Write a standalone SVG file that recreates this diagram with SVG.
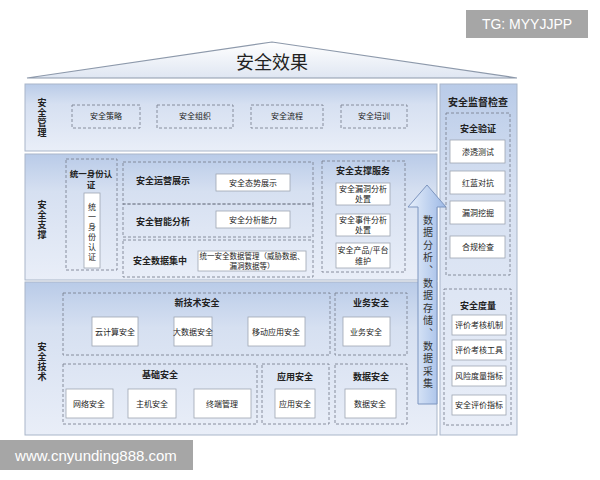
<svg xmlns="http://www.w3.org/2000/svg" width="600" height="480" viewBox="0 0 600 480">
<defs>
<linearGradient id="band" x1="0" y1="0" x2="0" y2="1"><stop offset="0" stop-color="#b9cbe8"/><stop offset="0.3" stop-color="#d6e0f1"/><stop offset="1" stop-color="#e9eef8"/></linearGradient>
<linearGradient id="roof" x1="0" y1="0" x2="0" y2="1"><stop offset="0" stop-color="#ffffff"/><stop offset="1" stop-color="#dfe6f2"/></linearGradient>
<linearGradient id="arr" x1="0" y1="0" x2="1" y2="0"><stop offset="0" stop-color="#e8f0fb"/><stop offset="1" stop-color="#9db9e6"/></linearGradient>
</defs>
<style>
text{font-family:"Noto Sans CJK SC","Liberation Sans",sans-serif;fill:#222;text-anchor:middle}
.band{fill:url(#band);stroke:#a9b6c9;stroke-width:1}
.d{fill:none;stroke:#7d8593;stroke-width:0.9;stroke-dasharray:3,2}
.w{fill:#fff;stroke:#9ea6b2;stroke-width:0.8}
.s{font-size:8px}
.b{font-size:9px;font-weight:bold}
.v{font-size:9px;font-weight:bold;writing-mode:vertical-rl;letter-spacing:1px}
</style>
<rect width="600" height="480" fill="#fff"/>
<g id="roof"><polygon points="27,78 272,42 517,78" fill="url(#roof)" stroke="#8d99ab" stroke-width="1.2"/><text x="272" y="69" style="font-size:18px">安全效果</text></g>
<g id="bands">
<rect class="band" x="25" y="84" width="412" height="67"/>
<rect class="band" x="25" y="154" width="412" height="126"/>
<rect class="band" x="25" y="282" width="412" height="153"/>
<rect class="band" x="440" y="84" width="77" height="351"/>
</g>
<g id="labels">
<text class="v" x="42" y="118">安全管理</text>
<text class="v" x="42" y="220">安全支撑</text>
<text class="v" x="42" y="362">安全技术</text>
</g>
<g id="mgmt">
<rect class="d" x="72" y="105" width="68" height="23"/><text class="s" x="106" y="119">安全策略</text>
<rect class="d" x="157" y="105" width="76" height="23"/><text class="s" x="195" y="119">安全组织</text>
<rect class="d" x="251" y="105" width="72" height="23"/><text class="s" x="287" y="119">安全流程</text>
<rect class="d" x="341" y="105" width="66" height="23"/><text class="s" x="374" y="119">安全培训</text>
</g>
<g id="identity">
<rect class="d" x="66" y="159" width="51" height="111"/>
<text x="91" y="177" style="font-size:8.5px;font-weight:bold">统一身份认</text><text x="91" y="188" style="font-size:8.5px;font-weight:bold">证</text>
<rect class="w" x="84" y="193" width="16" height="75"/>
<text x="92" y="233" style="font-size:8px;writing-mode:vertical-rl;letter-spacing:2px">统一身份认证</text>
</g>
<g id="ops">
<rect class="d" x="123" y="162" width="190" height="42"/><text class="b" x="163" y="184">安全运营展示</text>
<rect class="w" x="216" y="174" width="74" height="17"/><text class="s" x="253" y="186">安全态势展示</text>
<rect class="d" x="123" y="204" width="190" height="33"/><text class="b" x="163" y="225">安全智能分析</text>
<rect class="w" x="216" y="211" width="74" height="17"/><text class="s" x="253" y="223">安全分析能力</text>
<rect class="d" x="123" y="240" width="190" height="37"/><text class="b" x="160" y="264">安全数据集中</text>
<rect class="w" x="198" y="251" width="108" height="20"/><text x="252" y="259" style="font-size:7.5px">统一安全数据管理（威胁数据、</text><text x="252" y="269" style="font-size:7.5px">漏洞数据等）</text>
</g>
<g id="services">
<rect class="d" x="322" y="161" width="83" height="111"/><text class="b" x="363" y="174">安全支撑服务</text>
<rect class="w" x="336" y="183" width="54" height="22"/><text class="s" x="363" y="192">安全漏洞分析</text><text class="s" x="363" y="202">处置</text>
<rect class="w" x="336" y="214" width="54" height="22"/><text class="s" x="363" y="223">安全事件分析</text><text class="s" x="363" y="233">处置</text>
<rect class="w" x="336" y="243" width="54" height="25"/><text class="s" x="363" y="253">安全产品/平台</text><text class="s" x="363" y="264">维护</text>
</g>
<g id="connectors">
<polygon points="427,185 446,207 437,207 437,404 418,404 418,207 408,207" fill="url(#arr)" stroke="#7d95bf" stroke-width="1"/>
<text x="428" y="303" style="font-size:10px;fill:#333;writing-mode:vertical-rl;letter-spacing:2.6px">数据分析、数据存储、数据采集</text>
</g>
<g id="supervision">
<text x="478" y="106" style="font-size:10px;font-weight:bold">安全监督检查</text>
<rect class="d" x="446" y="113" width="64" height="162"/><text class="b" x="478" y="132">安全验证</text>
<rect class="w" x="450" y="140" width="55" height="23"/><text class="s" x="478" y="155">渗透测试</text>
<rect class="w" x="450" y="171" width="55" height="23"/><text class="s" x="478" y="186">红蓝对抗</text>
<rect class="w" x="450" y="201" width="55" height="23"/><text class="s" x="478" y="216">漏洞挖掘</text>
<rect class="w" x="450" y="236" width="55" height="22"/><text class="s" x="478" y="250">合规检查</text>
<rect class="d" x="444" y="289" width="67" height="136"/><text class="b" x="478" y="309">安全度量</text>
<rect class="w" x="452" y="315" width="54" height="20"/><text class="s" x="479" y="328">评价考核机制</text>
<rect class="w" x="452" y="340" width="54" height="20"/><text class="s" x="479" y="353">评价考核工具</text>
<rect class="w" x="452" y="366" width="54" height="20"/><text class="s" x="479" y="379">风险度量指标</text>
<rect class="w" x="452" y="395" width="54" height="20"/><text class="s" x="479" y="408">安全评价指标</text>
</g>
<g id="tech">
<rect class="d" x="63" y="293" width="267" height="62"/><text class="b" x="197" y="306">新技术安全</text>
<rect class="w" x="92" y="317" width="46" height="29"/><text class="s" x="115" y="335">云计算安全</text>
<rect class="w" x="174" y="317" width="38" height="29"/><text class="s" x="193" y="335">大数据安全</text>
<rect class="w" x="248" y="317" width="57" height="29"/><text class="s" x="276" y="335">移动应用安全</text>
<rect class="d" x="335" y="293" width="72" height="62"/><text class="b" x="371" y="306">业务安全</text>
<rect class="w" x="343" y="317" width="47" height="29"/><text class="s" x="366" y="335">业务安全</text>
<rect class="d" x="63" y="364" width="194" height="60"/><text class="b" x="160" y="378">基础安全</text>
<rect class="w" x="66" y="389" width="47" height="29"/><text class="s" x="89" y="407">网络安全</text>
<rect class="w" x="128" y="389" width="48" height="29"/><text class="s" x="152" y="407">主机安全</text>
<rect class="w" x="194" y="389" width="57" height="29"/><text class="s" x="222" y="407">终端管理</text>
<rect class="d" x="262" y="364" width="67" height="60"/><text class="b" x="295" y="380">应用安全</text>
<rect class="w" x="275" y="389" width="40" height="29"/><text class="s" x="295" y="407">应用安全</text>
<rect class="d" x="335" y="364" width="72" height="60"/><text class="b" x="371" y="380">数据安全</text>
<rect class="w" x="345" y="389" width="51" height="29"/><text class="s" x="370" y="407">数据安全</text>
</g>
<g id="watermarks">
<rect x="466" y="10" width="122" height="28" fill="#a6a6a6"/><text x="527" y="29" style="font-family:'Liberation Sans',sans-serif;font-size:14px;fill:#fff">TG: MYYJJPP</text>
<rect x="0" y="440" width="193" height="30" fill="#a6a6a6"/><text x="96" y="461" style="font-family:'Liberation Sans',sans-serif;font-size:15px;fill:#fff">www.cnyunding888.com</text>
</g>
</svg>
